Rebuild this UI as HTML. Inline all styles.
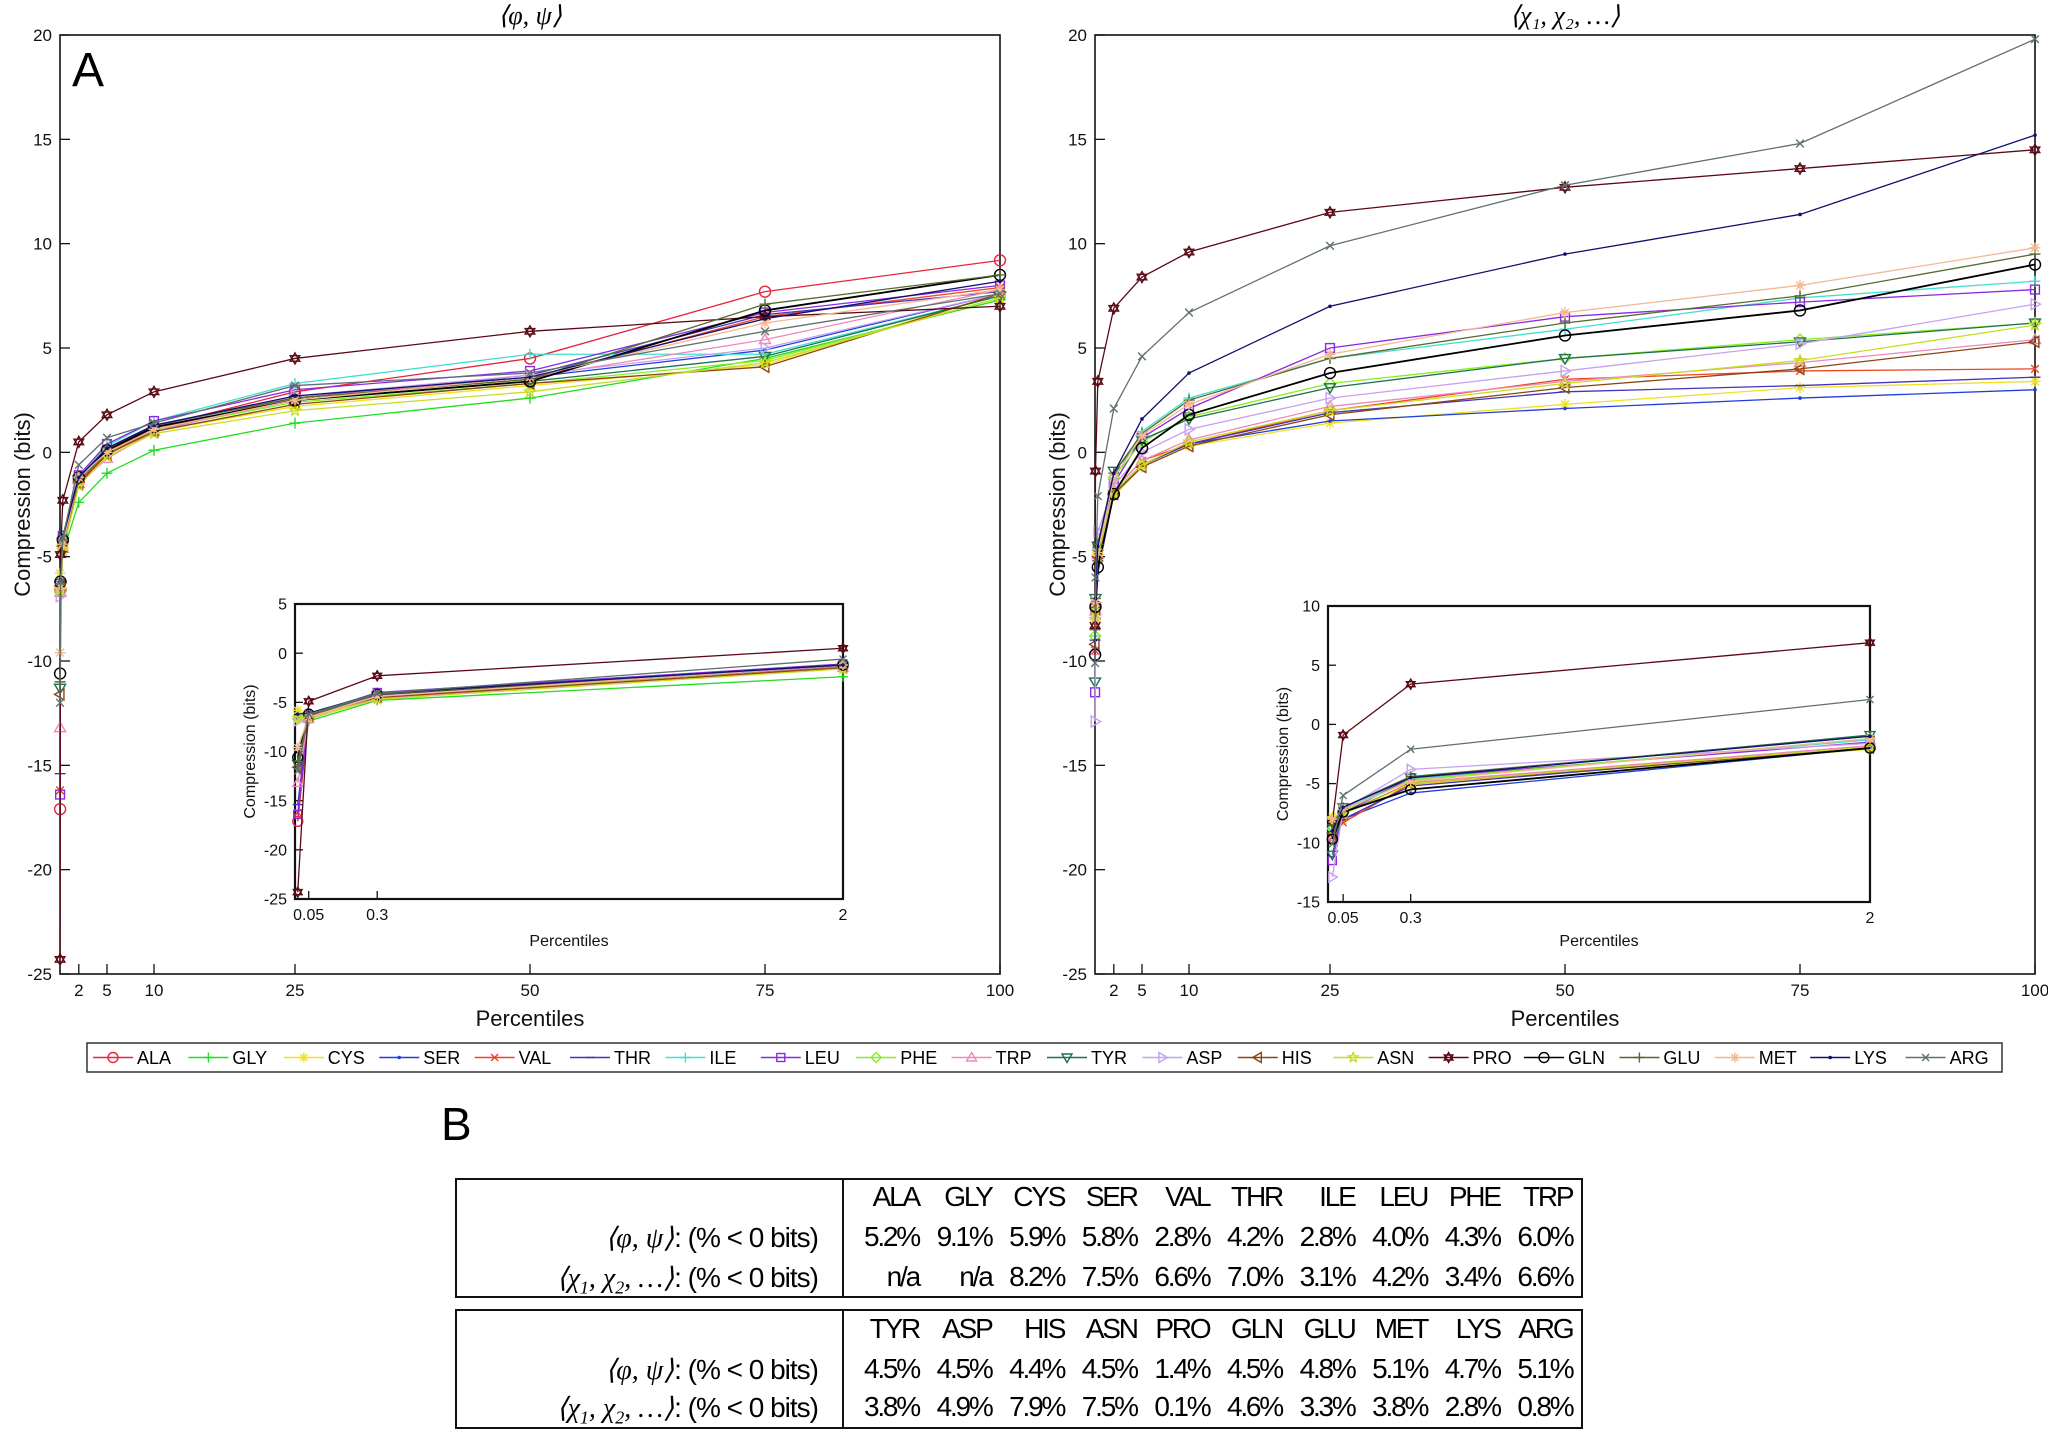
<!DOCTYPE html>
<html><head><meta charset="utf-8"><style>
html,body{margin:0;padding:0;background:#fff;}
body{width:2048px;height:1432px;position:relative;overflow:hidden;font-family:"Liberation Sans",sans-serif;}
svg{position:absolute;left:0;top:0;}
.t{position:absolute;white-space:nowrap;}
</style></head><body>
<svg id="chart" width="2048" height="1432" xmlns="http://www.w3.org/2000/svg"></svg>

<div class="t" style="left:441px;top:1097px;font-size:46px;">B</div>
<div id="tables"></div>

<script>
const xs=[0.01,0.05,0.3,2,5,10,25,50,75,100];
const names=["ALA","GLY","CYS","SER","VAL","THR","ILE","LEU","PHE","TRP","TYR","ASP","HIS","ASN","PRO","GLN","GLU","MET","LYS","ARG"];
const mainTicksX=[2,5,10,25,50,75,100];
const mainTicksY=[20,15,10,5,0,-5,-10,-15,-20,-25];
const insetTicksX=[0.05,0.3,2];
const insetTicksYL=[5,0,-5,-10,-15,-20,-25];
const insetTicksYR=[10,5,0,-5,-10,-15];

const phi_ALA=[-17.1,-6.6,-4.2,-1.4,0.0,1.2,2.9,4.5,7.7,9.2];
const phi_GLY=[-6.5,-6.9,-4.8,-2.4,-1.0,0.1,1.4,2.6,4.5,7.3];
const phi_CYS=[-5.8,-6.5,-4.5,-1.5,-0.1,1.0,2.2,3.2,4.2,7.6];
const phi_SER=[-6.6,-6.3,-4.2,-1.3,0.1,1.3,2.6,3.6,4.9,7.6];
const phi_VAL=[-16.2,-6.4,-4.3,-1.4,-0.1,1.1,2.6,3.5,6.5,7.9];
const phi_THR=[-15.4,-6.3,-4.1,-1.3,0.1,1.3,2.6,3.7,6.6,7.7];
const phi_ILE=[-6.4,-6.2,-4.0,-1.1,0.3,1.5,3.3,4.7,4.7,7.5];
const phi_LEU=[-16.4,-6.3,-4.0,-1.1,0.4,1.5,3.0,3.9,6.7,8.0];
const phi_PHE=[-6.7,-6.5,-4.4,-1.3,0.0,1.1,2.4,3.3,4.4,7.4];
const phi_TRP=[-13.2,-6.7,-4.6,-1.5,-0.3,1.0,2.6,3.6,5.4,7.8];
const phi_TYR=[-11.3,-6.4,-4.3,-1.3,0.0,1.1,2.5,3.4,4.6,7.5];
const phi_ASP=[-6.9,-6.5,-4.3,-1.3,0.1,1.2,2.7,3.7,5.0,7.6];
const phi_HIS=[-11.6,-6.4,-4.5,-1.5,-0.1,1.0,2.3,3.3,4.1,7.6];
const phi_ASN=[-6.6,-6.6,-4.7,-1.6,-0.2,0.9,2.0,2.9,4.3,7.4];
const phi_PRO=[-24.3,-4.9,-2.3,0.5,1.8,2.9,4.5,5.8,6.5,7.0];
const phi_GLN=[-10.6,-6.2,-4.2,-1.2,0.1,1.2,2.5,3.4,6.8,8.5];
const phi_GLU=[-11.0,-6.3,-4.2,-1.2,0.2,1.3,2.6,3.5,7.1,8.5];
const phi_MET=[-9.6,-6.5,-4.4,-1.2,0.0,1.1,2.5,3.6,6.2,7.8];
const phi_LYS=[-6.2,-6.1,-4.1,-1.2,0.2,1.3,2.7,3.6,6.4,8.2];
const phi_ARG=[-12.0,-6.2,-4.1,-0.6,0.7,1.4,3.2,3.8,5.8,7.6];

const chi_ALA=null;
const chi_GLY=null;
const chi_CYS=[-7.8,-8.1,-5.1,-2.1,-0.7,0.3,1.4,2.3,3.1,3.4];
const chi_SER=[-8.5,-8.0,-5.8,-2.0,-0.6,0.4,1.5,2.1,2.6,3.0];
const chi_VAL=[-9.5,-8.3,-5.0,-1.8,-0.4,0.4,2.0,3.5,3.9,4.0];
const chi_THR=[-9.0,-8.0,-5.2,-1.9,-0.6,0.4,1.9,2.9,3.2,3.6];
const chi_ILE=[-8.8,-7.2,-4.6,-1.3,1.0,2.6,4.5,5.9,7.4,8.2];
const chi_LEU=[-11.5,-7.5,-4.5,-1.5,0.7,2.1,5.0,6.5,7.2,7.8];
const chi_PHE=[-8.8,-7.3,-4.7,-1.2,0.5,1.7,3.3,4.5,5.4,6.2];
const chi_TRP=[-9.5,-7.6,-4.9,-1.8,-0.4,0.6,2.2,3.4,4.3,5.4];
const chi_TYR=[-11.0,-7.0,-4.5,-0.9,0.6,1.6,3.1,4.5,5.3,6.2];
const chi_ASP=[-12.9,-7.2,-3.8,-1.6,0.0,1.1,2.6,3.9,5.2,7.1];
const chi_HIS=[-9.2,-7.5,-5.0,-2.0,-0.7,0.3,1.8,3.1,4.0,5.3];
const chi_ASN=[-8.0,-7.6,-5.0,-1.9,-0.6,0.5,2.0,3.3,4.4,6.1];
const chi_PRO=[-8.3,-0.9,3.4,6.9,8.4,9.6,11.5,12.7,13.6,14.5];
const chi_GLN=[-9.7,-7.4,-5.5,-2.0,0.2,1.8,3.8,5.6,6.8,9.0];
const chi_GLU=[-8.5,-7.0,-4.4,-1.0,0.9,2.5,4.5,6.2,7.5,9.5];
const chi_MET=[-8.0,-7.2,-4.8,-1.2,0.8,2.3,4.7,6.7,8.0,9.8];
const chi_LYS=[-9.0,-7.0,-4.5,-1.0,1.6,3.8,7.0,9.5,11.4,15.2];
const chi_ARG=[-10.1,-6.0,-2.1,2.1,4.6,6.7,9.9,12.8,14.8,19.8];

const phiSeries=[phi_ALA,phi_GLY,phi_CYS,phi_SER,phi_VAL,phi_THR,phi_ILE,phi_LEU,phi_PHE,phi_TRP,phi_TYR,phi_ASP,phi_HIS,phi_ASN,phi_PRO,phi_GLN,phi_GLU,phi_MET,phi_LYS,phi_ARG];
const chiSeries=[chi_ALA,chi_GLY,chi_CYS,chi_SER,chi_VAL,chi_THR,chi_ILE,chi_LEU,chi_PHE,chi_TRP,chi_TYR,chi_ASP,chi_HIS,chi_ASN,chi_PRO,chi_GLN,chi_GLU,chi_MET,chi_LYS,chi_ARG];

const colors=["#e8243c","#22dd22","#f0e020","#1f3fdd","#ee4422","#4433bb","#40e0d0","#8a2be2","#88ee22","#ee88bb","#207050","#c8a0f0","#8b4513","#c8dd22","#5a0a14","#000000","#556b2f","#f4b890","#101070","#607070"];
const markers=["circle","plus","star","dot","x","dash","plus","square","diamond","triup","tridown","triright","trileft","pent","hex","circle","plus","star","dot","x"];

const NS="http://www.w3.org/2000/svg";
const svg=document.getElementById("chart");
function el(tag,attrs,parent){const e=document.createElementNS(NS,tag);for(const k in attrs)e.setAttribute(k,attrs[k]);(parent||svg).appendChild(e);return e;}
function txt(s,x,y,attrs,parent){const e=el("text",Object.assign({x:x,y:y,"font-family":"Liberation Sans, sans-serif"},attrs),parent);e.textContent=s;return e;}

function marker(type,x,y,c,r,g){
  const st={stroke:c,fill:"none","stroke-width":1.4};
  let m;
  if(type==="circle")m=el("circle",Object.assign({cx:x,cy:y,r:r},st),g);
  else if(type==="square")m=el("rect",Object.assign({x:x-r*0.8,y:y-r*0.8,width:r*1.6,height:r*1.6},st),g);
  else if(type==="dot")m=el("circle",{cx:x,cy:y,r:1.8,fill:c},g);
  else{
    let d="";
    if(type==="plus")d=`M${x-r},${y}H${x+r}M${x},${y-r}V${y+r}`;
    else if(type==="x")d=`M${x-r*.7},${y-r*.7}L${x+r*.7},${y+r*.7}M${x-r*.7},${y+r*.7}L${x+r*.7},${y-r*.7}`;
    else if(type==="star")d=`M${x-r},${y}H${x+r}M${x},${y-r}V${y+r}M${x-r*.7},${y-r*.7}L${x+r*.7},${y+r*.7}M${x-r*.7},${y+r*.7}L${x+r*.7},${y-r*.7}`;
    else if(type==="dash")d=`M${x-r},${y}H${x+r}`;
    else if(type==="diamond")d=`M${x},${y-r}L${x+r},${y}L${x},${y+r}L${x-r},${y}Z`;
    else if(type==="triup")d=`M${x},${y-r}L${x+r},${y+r*.7}L${x-r},${y+r*.7}Z`;
    else if(type==="tridown")d=`M${x},${y+r}L${x+r},${y-r*.7}L${x-r},${y-r*.7}Z`;
    else if(type==="triright")d=`M${x+r},${y}L${x-r*.7},${y-r}L${x-r*.7},${y+r}Z`;
    else if(type==="trileft")d=`M${x-r},${y}L${x+r*.7},${y-r}L${x+r*.7},${y+r}Z`;
    else if(type==="pent"){for(let i=0;i<10;i++){const a=-Math.PI/2+i*Math.PI/5,rr=i%2?r*.45:r;d+=(i?"L":"M")+(x+rr*Math.cos(a))+","+(y+rr*Math.sin(a));}d+="Z";}
    else if(type==="hex"){d=`M${x},${y-r}L${x+r*.87},${y+r*.5}L${x-r*.87},${y+r*.5}ZM${x},${y+r}L${x+r*.87},${y-r*.5}L${x-r*.87},${y-r*.5}Z`;}
    m=el("path",Object.assign({d:d},st),g);
  }
  return m;
}

function drawPanel(p){
  const g=el("g",{});
  
  
  const sx=v=>p.x0+(v-p.xmin)/(p.xmax-p.xmin)*(p.x1-p.x0);
  const sy=v=>p.y1-(v-p.ymin)/(p.ymax-p.ymin)*(p.y1-p.y0);
  el("rect",{x:p.x0,y:p.y0,width:p.x1-p.x0,height:p.y1-p.y0,fill:"#fff",stroke:"#111","stroke-width":p.bw},g);
  p.yt.forEach(v=>{
    const t=el("path",{d:`M${p.x0},${sy(v)}h${p.tl}`,stroke:"#111","stroke-width":1.3},g);
    
    
    const l=txt(String(v),p.x0-8,sy(v)+p.fs*0.35,{"font-size":p.fs,"text-anchor":"end",fill:"#111"},g);
    
    
  });
  p.xt.forEach(v=>{
    const t=el("path",{d:`M${sx(v)},${p.y1}v${-p.tl}`,stroke:"#111","stroke-width":1.3},g);
    
    
    const l=txt(String(v),sx(v),p.y1+p.fs*1.3,{"font-size":p.fs,"text-anchor":"middle",fill:"#111"},g);
    
    
  });
  const yl=txt("Compression (bits)",0,0,{"font-size":p.lfs,"text-anchor":"middle",fill:"#111",transform:`translate(${p.ylx},${(p.y0+p.y1)/2}) rotate(-90)`},g);
  
  
  const xl=txt("Percentiles",(p.x0+p.x1)/2,p.xly,{"font-size":p.lfs,"text-anchor":"middle",fill:"#111"},g);
  
  
  p.series.forEach((s,i)=>{
    if(!s)return;
    const sg=el("g",{},g);
    
    
    const pts=[];
    xs.forEach((x,j)=>{if(x<=p.xmax)pts.push([sx(x),sy(s[j])]);});
    const ln=el("polyline",{points:pts.map(q=>q.join(",")).join(" "),fill:"none",stroke:colors[i],"stroke-width":(names[i]==="GLN"?1.8:1.3)},sg);
    
    
    pts.forEach(q=>{
      const m=marker(markers[i],q[0],q[1],colors[i],p.mr,sg);
      
      
    });
  });
}

// main panels
drawPanel({name:"phi-psi-main",x0:60,x1:1000,y0:35,y1:974,xmin:0,xmax:100,ymin:-25,ymax:20,xt:mainTicksX,yt:mainTicksY,series:phiSeries,fs:17,lfs:22,tl:10,bw:1.6,ylx:30,xly:1026,mr:5.5});
drawPanel({name:"chi-main",x0:1095,x1:2035,y0:35,y1:974,xmin:0,xmax:100,ymin:-25,ymax:20,xt:mainTicksX,yt:mainTicksY,series:chiSeries,fs:17,lfs:22,tl:10,bw:1.6,ylx:1065,xly:1026,mr:5.5});
// insets
drawPanel({name:"phi-psi-inset",x0:295,x1:843,y0:604,y1:899,xmin:0,xmax:2,ymin:-25,ymax:5,xt:insetTicksX,yt:insetTicksYL,series:phiSeries,fs:16,lfs:16,tl:8,bw:2.2,ylx:255,xly:946,mr:5});
drawPanel({name:"chi-inset",x0:1328,x1:1870,y0:606,y1:902,xmin:-0.006,xmax:2,ymin:-15,ymax:10,xt:insetTicksX,yt:insetTicksYR,series:chiSeries,fs:16,lfs:16,tl:8,bw:2.2,ylx:1288,xly:946,mr:5});

// titles
const t1=txt("⟨φ, ψ⟩",530,24,{"font-size":26,"font-family":"Liberation Serif, serif","text-anchor":"middle","font-style":"italic"});


const t2=txt("⟨χ₁, χ₂, …⟩",1565,24,{"font-size":26,"font-family":"Liberation Serif, serif","text-anchor":"middle","font-style":"italic"});


const pa=txt("A",72,86,{"font-size":48,fill:"#000"});



// legend
const lg=el("g",{});


el("rect",{x:87,y:1043,width:1915,height:29,fill:"#fff",stroke:"#333","stroke-width":1.5},lg);
names.forEach((n,i)=>{
  const x=93+i*95.4,y=1057.5;
  const e=el("g",{},lg);
  
  
  el("path",{d:`M${x},${y}h40`,stroke:colors[i],"stroke-width":1.4},e);
  marker(markers[i],x+20,y,colors[i],5,e);
  txt(n,x+44,y+6.5,{"font-size":18,fill:"#000"},e);
});

// tables
const top1=["ALA","GLY","CYS","SER","VAL","THR","ILE","LEU","PHE","TRP"];
const phiPct1=["5.2%","9.1%","5.9%","5.8%","2.8%","4.2%","2.8%","4.0%","4.3%","6.0%"];
const chiPct1=["n/a","n/a","8.2%","7.5%","6.6%","7.0%","3.1%","4.2%","3.4%","6.6%"];
const top2=["TYR","ASP","HIS","ASN","PRO","GLN","GLU","MET","LYS","ARG"];
const phiPct2=["4.5%","4.5%","4.4%","4.5%","1.4%","4.5%","4.8%","5.1%","4.7%","5.1%"];
const chiPct2=["3.8%","4.9%","7.9%","7.5%","0.1%","4.6%","3.3%","3.8%","2.8%","0.8%"];
const T=document.getElementById("tables");
function div(cls,style,html,name){const d=document.createElement("div");d.className=cls;d.setAttribute("style",style);d.innerHTML=html;T.appendChild(d);return d;}
function table(top,hdr,r1,r2,rows,k){
  div("","position:absolute;left:455px;top:"+top+"px;width:1128px;height:"+(k?120:122)+"px;border:2px solid #111;box-sizing:border-box;","", "stats-table-"+k);
  div("","position:absolute;left:842px;top:"+top+"px;width:2px;height:"+(k?120:122)+"px;background:#111;","", "table-divider-"+k);
  const fs=28;
  const lab=(s,y,n)=>div("t","right:"+(2048-818)+"px;top:"+(y-17)+"px;font-size:"+fs+"px;font-family:'Liberation Serif',serif;",s,n);
  lab("<i>⟨φ, ψ⟩</i><span style=\"font-family:'Liberation Sans',sans-serif;letter-spacing:-1px\">: (% &lt; 0 bits)</span>",rows[1],"phi-row-label-"+k);
  lab("<i>⟨χ<sub style='font-size:18px'>1</sub>, χ<sub style='font-size:18px'>2</sub>, …⟩</i><span style=\"font-family:'Liberation Sans',sans-serif;letter-spacing:-1px\">: (% &lt; 0 bits)</span>",rows[2],"chi-row-label-"+k);
  for(let i=0;i<10;i++){
    const right=2048-(919+i*72.6);
    [hdr[i],r1[i],r2[i]].forEach((s,j)=>div("t","right:"+right+"px;top:"+(rows[j]-17)+"px;font-size:"+fs+"px;letter-spacing:-2.2px;",s,"cell-"+k+"-"+j+"-"+i));
  }
}
table(1178,top1,phiPct1,chiPct1,[1198,1238,1278],1);
table(1309,top2,phiPct2,chiPct2,[1330,1370,1408],2);
</script>
</body></html>
